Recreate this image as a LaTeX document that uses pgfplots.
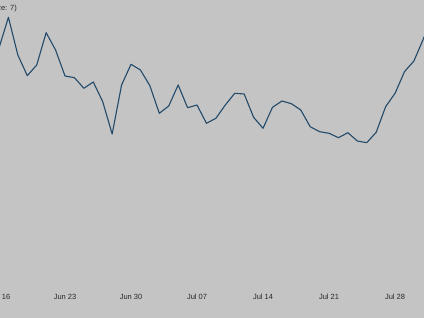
\documentclass[border=0pt]{standalone}
\usepackage{fontspec}
\setmainfont{Liberation Sans}
\usepackage{pgfplots}
\pgfplotsset{compat=1.18}
\definecolor{bg}{RGB}{196,196,196}
\definecolor{ln}{RGB}{34,74,106}
\definecolor{tx}{RGB}{40,40,40}
\begin{document}
\begin{tikzpicture}
\begin{axis}[
  name=ax,
  scale only axis,
  width=444pt, height=318pt,
  xmin=-2.015, xmax=45.07,
  ymin=0, ymax=318,
  axis line style={draw=none},
  axis background/.style={fill=bg},
  major tick length=0pt,
  ytick=\empty,
  xtick={0,7,14,21,28,35,42},
  xticklabels={Jun 16,Jun 23,Jun 30,Jul 07,Jul 14,Jul 21,Jul 28},
  xticklabel style={anchor=center, yshift=21pt, font=\fontsize{7.5}{9}\selectfont, text=tx},
]
\addplot[ln, line width=1.1pt, line join=round] coordinates {
(0,270) (1,300.7) (2,263) (3,242.3) (4,253) (5,285.3) (6,268) (7,242)
(8,240.3) (9,229.7) (10,236) (11,216.3) (12,184) (13,233) (14,253.7)
(15,248) (16,232.3) (17,204.7) (18,212) (19,233) (20,210.3) (21,213)
(22,194.7) (23,199.7) (24,213) (25,224.7) (26,224) (27,200.7) (28,189.7)
(29,210.7) (30,217) (31,214.3) (32,208) (33,191.3) (34,186.3) (35,184.7)
(36,180.3) (37,185.3) (38,177) (39,175.3) (40,185.7) (41,211.3) (42,224.7)
(43,246.3) (44,257) (45,279) (46,303)
};
\end{axis}
\node[anchor=east, inner sep=0pt, text=tx, font=\fontsize{7.5}{9}\selectfont]
  at ([xshift=37pt, yshift=-8.5pt]ax.north west) {Daily count (rolling mean, window size: 7)};
\pgfresetboundingbox
\path[use as bounding box] ([xshift=20pt]ax.south west) rectangle (ax.north east);
\end{tikzpicture}
\end{document}
